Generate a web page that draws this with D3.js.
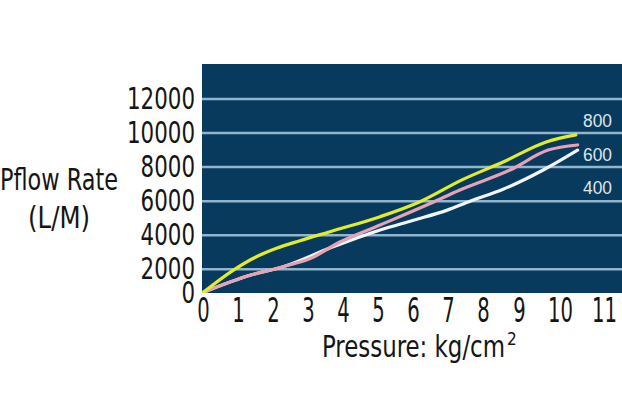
<!DOCTYPE html>
<html>
<head>
<meta charset="utf-8">
<script src="https://cdn.jsdelivr.net/npm/d3@7"></script>
<style>
  html, body { margin: 0; padding: 0; background: #ffffff; }
  svg { display: block; }
  text { font-family: "DejaVu Sans Condensed", "Liberation Sans Narrow", sans-serif; fill: #151515; }
</style>
</head>
<body>
<svg id="chart" width="622" height="418"></svg>
<script>
// ---- data ----
const xTicks = [0, 1, 2, 3, 4, 5, 6, 7, 8, 9, 10, 11];
const yTicks = [0, 2000, 4000, 6000, 8000, 10000, 12000];
const gridValues = [2000, 4000, 6000, 8000, 10000, 12000];

const seriesNames = ["400", "600", "800"];
const pressure400 = [0, 1.34, 2.29, 3.63, 5.06, 6.01, 6.96, 7.63, 8.56, 9.59, 10.4];
const flow400     = [0, 1480, 2150, 3250, 4310, 4880, 5460, 6000, 6700, 7830, 9000];
const pressure600 = [0, 1.34, 2.29, 3.06, 3.91, 5.06, 6.49, 7.34, 8.75, 9.71, 10.4];
const flow600     = [0, 1480, 2150, 2630, 3600, 4600, 5860, 6660, 7830, 9000, 9300];
const pressure800 = [0, 0.87, 1.44, 2.1, 2.77, 3.63, 5.06, 6.2, 7.4, 8.56, 9.68, 10.36];
const flow800     = [0, 1930, 2650, 3230, 3680, 4210, 5090, 5970, 7250, 8300, 9490, 9890];

const yTitle = ["Pflow Rate", "(L/M)"];
const xTitle = "Pressure: kg/cm";
const xTitleSup = "2";

// ---- layout ----
const svg = d3.select("#chart");
const panel = { x0: 202, x1: 622, y0: 64, y1: 293 };

// the reference's axes are hand-spaced; piecewise linear scales reproduce them
const x = d3.scaleLinear().domain([0, 8, 9, 10, 11]).range([203, 483, 519, 560, 604]);
const y = d3.scaleLinear().domain([0, 2000, 12000]).range([292.5, 269.3, 99]);

svg.append("rect")
  .attr("x", panel.x0).attr("y", panel.y0)
  .attr("width", panel.x1 - panel.x0).attr("height", panel.y1 - panel.y0)
  .attr("fill", "#083a5d");

svg.append("g").selectAll("line").data(gridValues).join("line")
  .attr("x1", panel.x0).attr("x2", panel.x1)
  .attr("y1", d => y(d)).attr("y2", d => y(d))
  .attr("stroke", "#8fb5cf").attr("stroke-width", 2.5);

svg.append("clipPath").attr("id", "clip").append("rect")
  .attr("x", panel.x0).attr("y", panel.y0)
  .attr("width", panel.x1 - panel.x0).attr("height", panel.y1 - panel.y0);

const series = [
  { p: pressure400, v: flow400, color: "#f1f5f7" },
  { p: pressure600, v: flow600, color: "#e8a2b5" },
  { p: pressure800, v: flow800, color: "#e1ec2a" }
];
const line = d3.line().x(d => x(d[0])).y(d => y(d[1])).curve(d3.curveMonotoneX);
svg.append("g").attr("clip-path", "url(#clip)")
  .selectAll("path").data(series).join("path")
  .attr("d", s => line(s.p.map((pp, i) => [pp, s.v[i]])))
  .attr("fill", "none")
  .attr("stroke", s => s.color)
  .attr("stroke-width", 3.2)
  .attr("stroke-linejoin", "round")
  .attr("stroke-linecap", "round");

// series labels at right
const labelY = d3.scaleLinear().domain([0, 2]).range([188, 121]);
svg.append("g").selectAll("text").data(seriesNames).join("text")
  .attr("x", 597.5).attr("y", (d, i) => labelY(i))
  .attr("dy", "0.36em")
  .attr("text-anchor", "middle")
  .attr("textLength", 29).attr("lengthAdjust", "spacingAndGlyphs")
  .style("font-family", "'Liberation Sans', Arial, sans-serif")
  .style("font-size", "17.5px")
  .style("fill", "#dde4eb")
  .text(d => d);

// y axis
const yAxis = svg.append("g").attr("transform", `translate(${panel.x0},0)`)
  .call(d3.axisLeft(y).tickValues(yTicks).tickSize(0).tickPadding(7).tickFormat(d3.format("d")));
yAxis.select(".domain").remove();
yAxis.selectAll("text")
  .attr("textLength", d => String(d).length * 13.6)
  .attr("lengthAdjust", "spacingAndGlyphs")
  .style("font-family", "'DejaVu Sans Condensed', sans-serif")
  .style("font-size", "30px")
  .style("fill", "#151515");

// x axis (glyphs narrowed with a horizontal scale so their boxes stay narrow)
const xSx = 0.66;
const xAxis = svg.append("g").attr("transform", `translate(0,${panel.y1})`)
  .call(d3.axisBottom(x).tickValues(xTicks).tickSize(0).tickPadding(5.5).tickFormat(d3.format("d")));
xAxis.select(".domain").remove();
xAxis.selectAll("text")
  .attr("transform", `scale(${xSx},1)`)
  .style("font-family", "'DejaVu Sans Condensed', sans-serif")
  .style("font-size", "33px")
  .style("fill", "#151515");

// titles
svg.append("text")
  .attr("x", 59).attr("y", 190)
  .attr("text-anchor", "middle")
  .attr("textLength", 118).attr("lengthAdjust", "spacingAndGlyphs")
  .style("font-size", "31px")
  .text(yTitle[0]);
svg.append("text")
  .attr("x", 59).attr("y", 228)
  .attr("text-anchor", "middle")
  .attr("textLength", 62).attr("lengthAdjust", "spacingAndGlyphs")
  .style("font-size", "31px")
  .text(yTitle[1]);

const xt = svg.append("text")
  .attr("x", 322).attr("y", 357)
  .style("font-size", "30px");
xt.append("tspan")
  .attr("textLength", 183).attr("lengthAdjust", "spacingAndGlyphs")
  .text(xTitle);
xt.append("tspan")
  .attr("dx", 2).attr("dy", -12.5)
  .style("font-size", "17px")
  .text(xTitleSup);
</script>
</body>
</html>
